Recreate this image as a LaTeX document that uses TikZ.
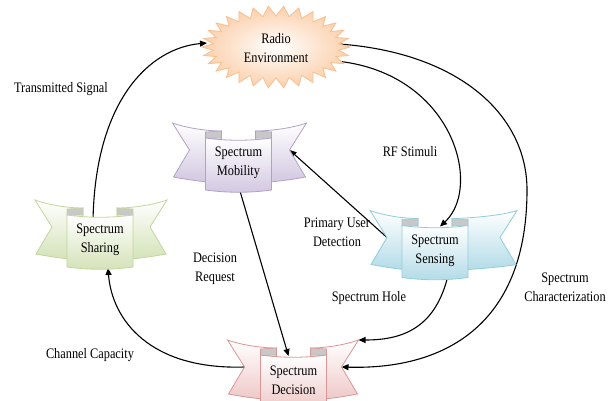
\documentclass[tikz,border=0pt]{standalone}
\usepackage{fontspec}
\setmainfont{Liberation Serif}[FakeStretch=0.85]
\usetikzlibrary{arrows.meta,shapes.geometric}
\definecolor{radline}{RGB}{250,191,143}
\definecolor{radfill}{RGB}{251,208,172}
\definecolor{mobline}{RGB}{178,161,199}
\definecolor{mobfill}{RGB}{210,199,225}
\definecolor{sharline}{RGB}{194,214,155}
\definecolor{sharfill}{RGB}{212,226,184}
\definecolor{sensline}{RGB}{146,205,220}
\definecolor{sensfill}{RGB}{178,219,231}
\definecolor{decline}{RGB}{217,150,148}
\definecolor{decfill}{RGB}{238,200,199}
\definecolor{foldgray}{RGB}{200,200,200}
\pgfdeclarelayer{bg}
\pgfsetlayers{bg,main}
\tikzset{
  ribL/.code={\def\ribL{#1}},
  ribR/.code={\def\ribR{#1}},
  ribcol/.code={\def\ribfill{#1fill}\def\ribline{#1line}},
  ribL=67, ribR=67, ribcol=mob,
  lbl/.style={font=\fontsize{14.5}{19}\selectfont, align=center, inner sep=0pt},
  ribpart/.style={shade, top color=white, bottom color=\ribfill, draw=\ribline, line width=0.8pt},
  foldpart/.style={fill=foldgray, draw=\ribline, line width=0.6pt},
  conn/.style={draw=black, line width=1.1pt, -{Triangle[length=7pt,width=6pt]}},
  ribbon/.pic={
    \path[ribpart] (-17,-33) .. controls (-32,-33) and (-\ribL+14,-36) .. (-\ribL,-41)
       -- (-\ribL+17,-14) -- (-\ribL+1,13) .. controls (-\ribL+17,16) and (-35,18) .. (-17,19) -- cycle;
    \path[ribpart] (17,-33) .. controls (32,-33) and (\ribR-14,-36) .. (\ribR,-41)
       -- (\ribR-17,-14) -- (\ribR-1,13) .. controls (\ribR-17,16) and (35,18) .. (17,19) -- cycle;
    \path[foldpart] (-33,-32) -- (-17,-33) -- (-17,-26) -- (-33,-25.5) -- cycle;
    \path[foldpart] (33,-32) -- (17,-33) -- (17,-26) -- (33,-25.5) -- cycle;
    \path[ribpart] (-33,-26) .. controls (-11,-23) and (11,-23) .. (33,-26)
       -- (33,26) .. controls (11,29) and (-11,29) .. (-33,26) -- cycle;
    \node[lbl] (-p) at (0,-1) {#1};
    \coordinate (-top) at (0,-25);
    \coordinate (-bot) at (0,27);
    \coordinate (-nl) at (-\ribL+17,-14);
    \coordinate (-nr) at (\ribR-17,-14);
    \coordinate (-wtr) at (\ribR,-41);
  }
}
\begin{document}
\begin{tikzpicture}[x=1pt,y=-1pt]
\useasboundingbox (0,0) rectangle (615,401);
\begin{pgfonlayer}{bg}
\fill[white] (0,0) rectangle (615,401);
\end{pgfonlayer}
% Radio environment starburst
\path[shade, inner color=white, outer color=radfill, draw=radline, line width=0.8pt]
  plot[samples=61, domain=0:60, variable=\k]
  ({276+ifthenelse(mod(round(\k),2)==0,74,63)*cos(\k*6)},
   {47+ifthenelse(mod(round(\k),2)==0,41,31)*sin(\k*6)}) -- cycle;
\node[lbl, ellipse, minimum width=148pt, minimum height=82pt] (radio) at (276,48) {Radio\\Environment};
% ribbons
\pic[ribcol=mob, ribL=66, ribR=68] (mob) at (238.5,164) {ribbon={Spectrum\\Mobility}};
\pic[ribcol=shar, ribL=65, ribR=67] (shar) at (100,241) {ribbon={Spectrum\\Sharing}};
\pic[ribcol=sens, ribL=65, ribR=82] (sens) at (435,251.5) {ribbon={Spectrum\\Sensing}};
\pic[ribcol=dec, ribL=66, ribR=65] (dec) at (293.5,381) {ribbon={Spectrum\\Decision}};
% labels
\node[lbl] (tsig) at (61,89) {Transmitted Signal};
\node[lbl] (rfs) at (410,152) {RF Stimuli};
\node[lbl] (pud) at (337,232) {Primary User\\Detection};
\node[lbl] (dreq) at (215,269) {Decision\\Request};
\node[lbl] (shole) at (369,298) {Spectrum Hole};
\node[lbl] (schar) at (565,287) {Spectrum\\Characterization};
\node[lbl] (ccap) at (90,355) {Channel Capacity};
% connectors
\begin{pgfonlayer}{bg}
\draw[conn] ([shift={(-7,5)}]shar-top) .. controls (95,100) and (150,48) .. ([shift={(-69,-5)}]radio.center);
\draw[conn] ([shift={(40,12)}]radio.center) .. controls (450,60) and (485,185) .. ([xshift=5pt]sens-top);
\draw[conn] ([shift={(40,-5)}]radio.center) .. controls (450,45) and (527,110) .. (527,190)
   .. controls (527,320) and (450,370) .. (dec-nr);
\draw[conn] ([shift={(13,-3)}]sens-bot) .. controls (435,330) and (400,340) .. (dec-wtr);
\draw[conn] (sens-nl) -- (mob-nr);
\draw[conn] ([shift={(0,-5)}]mob-bot) -- ([xshift=-5pt]dec-top);
\draw[conn] (dec-nl) .. controls (150,370) and (112,320) .. ([xshift=8pt]shar-bot);
\end{pgfonlayer}
\end{tikzpicture}
\end{document}
